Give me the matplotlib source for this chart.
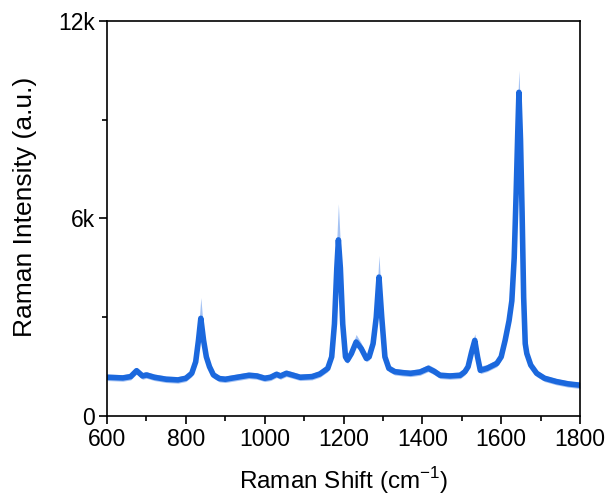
import matplotlib
matplotlib.use("Agg")
import matplotlib.pyplot as plt
from matplotlib.ticker import MultipleLocator, FixedLocator

plt.rcParams['font.family'] = ['Liberation Sans', 'DejaVu Sans']

# Raman shift (cm^-1)
wavenumber = [600, 620, 640, 660, 675, 690, 700, 720, 750, 780, 800, 815, 825, 832,
              838, 845, 852, 860, 870, 885, 900, 930, 960, 980, 1000, 1015, 1030,
              1040, 1055, 1070, 1090, 1120, 1140, 1160, 1170, 1177, 1183, 1187,
              1192, 1198, 1205, 1210, 1220, 1232, 1245, 1258, 1265, 1275, 1283,
              1290, 1297, 1305, 1315, 1330, 1350, 1370, 1394, 1415, 1430, 1445,
              1470, 1496, 1508, 1516, 1525, 1533, 1540, 1547, 1564, 1589, 1600,
              1610, 1620, 1627, 1633, 1638, 1642, 1645, 1649, 1653, 1657, 1661,
              1665, 1675, 1690, 1710, 1740, 1770, 1800]
# mean intensity (k counts)
mean_k = [1.18, 1.17, 1.16, 1.20, 1.38, 1.22, 1.25, 1.18, 1.12, 1.10, 1.15, 1.30, 1.65, 2.30,
          2.97, 2.30, 1.80, 1.50, 1.25, 1.14, 1.12, 1.18, 1.24, 1.22, 1.15, 1.18, 1.27,
          1.22, 1.30, 1.25, 1.18, 1.20, 1.28, 1.45, 1.80, 2.80, 4.50, 5.35,
          4.50, 2.80, 1.80, 1.70, 1.90, 2.25, 2.05, 1.75, 1.80, 2.20, 3.00,
          4.22, 3.00, 1.80, 1.45, 1.35, 1.32, 1.30, 1.34, 1.45, 1.36, 1.24,
          1.22, 1.24, 1.35, 1.50, 1.95, 2.30, 1.80, 1.39, 1.45, 1.60, 1.80,
          2.30, 2.90, 3.50, 4.80, 6.80, 8.60, 9.83, 8.40, 6.20, 3.60, 2.20,
          1.90, 1.55, 1.30, 1.15, 1.05, 0.98, 0.94]
# upper edge of the shaded band (k counts)
upper_k = [1.28, 1.27, 1.26, 1.30, 1.48, 1.32, 1.35, 1.28, 1.22, 1.20, 1.25, 1.42, 1.82, 2.62,
           3.60, 2.62, 1.97, 1.62, 1.35, 1.24, 1.22, 1.28, 1.34, 1.32, 1.25, 1.28, 1.37,
           1.32, 1.40, 1.35, 1.28, 1.30, 1.38, 1.57, 1.97, 3.20, 5.40, 6.45,
           5.20, 3.10, 1.97, 1.84, 2.07, 2.48, 2.22, 1.87, 1.92, 2.37, 3.40,
           4.88, 3.40, 1.97, 1.57, 1.45, 1.42, 1.40, 1.44, 1.57, 1.47, 1.34,
           1.32, 1.34, 1.47, 1.62, 2.12, 2.50, 1.97, 1.52, 1.57, 1.72, 1.92,
           2.47, 3.07, 3.72, 5.20, 7.60, 9.60, 10.50, 9.20, 6.80, 3.90, 2.37,
           2.02, 1.65, 1.40, 1.24, 1.14, 1.07, 1.02]
# lower edge of the shaded band (k counts)
lower_k = [m - 0.10 for m in mean_k]

fig = plt.figure(figsize=(6.08, 4.96), dpi=100)
ax = fig.add_axes([0.176, 0.161, 0.778, 0.797])

line_color = '#1b68dd'
ax.fill_between(wavenumber, [v * 1000 for v in lower_k], [v * 1000 for v in upper_k],
                color='#86aef0', alpha=0.75, linewidth=0)
ax.plot(wavenumber, [v * 1000 for v in mean_k], color=line_color, linewidth=4.0,
        solid_joinstyle='round', solid_capstyle='round')

ax.set_xlim(600, 1800)
ax.set_ylim(0, 12000)
ax.xaxis.set_major_locator(MultipleLocator(200))
ax.xaxis.set_minor_locator(MultipleLocator(100))
ax.yaxis.set_major_locator(FixedLocator([0, 6000, 12000]))
ax.yaxis.set_minor_locator(FixedLocator([3000, 9000]))
ax.set_yticklabels(['0', '6k', '12k'])

ax.tick_params(which='major', direction='out', length=5.5, width=1.2, labelsize=16.5,
               top=False, right=False, pad=3)
ax.tick_params(which='minor', direction='out', length=3.5, width=1.2, top=False, right=False)
for s in ax.spines.values():
    s.set_linewidth(1.2)

ax.set_xlabel('Raman Shift (cm$^{\\mathregular{-1}}$)', fontsize=17.5, labelpad=10)
ax.set_ylabel('Raman Intensity (a.u.)', fontsize=19)
ax.yaxis.set_label_coords(-0.148, 0.53)

fig.savefig('out.png', dpi=100, facecolor='white')
